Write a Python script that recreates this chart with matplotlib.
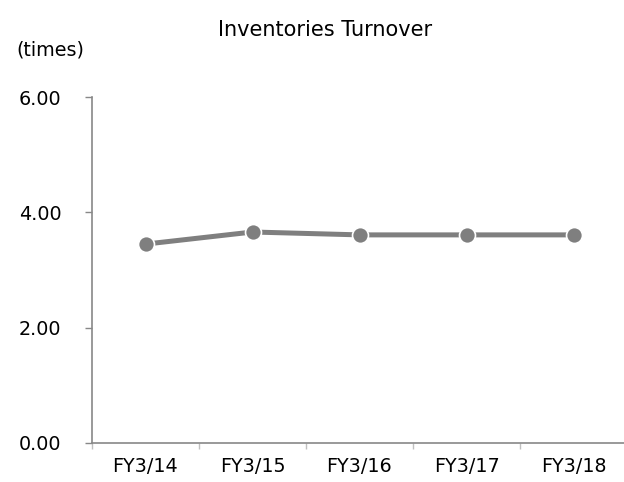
import matplotlib
matplotlib.use("Agg")
import matplotlib.pyplot as plt
from matplotlib.ticker import FixedLocator, FormatStrFormatter

categories = ["FY3/14", "FY3/15", "FY3/16", "FY3/17", "FY3/18"]
turnover = [3.45, 3.66, 3.61, 3.61, 3.61]
y_ticks = [0, 2, 4, 6]

plt.rcParams["font.family"] = ["DejaVu Sans"]

fig = plt.figure(figsize=(6.24, 4.82), dpi=100)
ax = fig.add_axes([92 / 624, 39.3 / 482, 535 / 624, 345.4 / 482])

gray = "#7f7f7f"
x = list(range(len(categories)))
ax.plot(x, turnover, color=gray, linewidth=3.6, marker="o", markersize=11.5,
        markerfacecolor=gray, markeredgecolor="white", markeredgewidth=1.2,
        solid_capstyle="butt", clip_on=False)

ax.set_xlim(-0.5, len(categories) - 0.5)
ax.set_ylim(0, 6)
ax.set_yticks(y_ticks)
ax.yaxis.set_major_formatter(FormatStrFormatter("%.2f"))
ax.set_xticks(x)
ax.set_xticklabels(categories)
ax.xaxis.set_minor_locator(FixedLocator([i - 0.5 for i in range(len(categories) + 1)]))

for side in ("top", "right"):
    ax.spines[side].set_visible(False)
for side in ("left", "bottom"):
    ax.spines[side].set_color("#888888")
    ax.spines[side].set_linewidth(1.2)

tick_size = 13.8
ax.tick_params(axis="y", length=5, width=1.0, color="#888888", pad=17,
               labelsize=tick_size, labelcolor="black")
ax.tick_params(axis="x", which="major", length=0, pad=10, labelsize=tick_size,
               labelcolor="black")
ax.tick_params(axis="x", which="minor", length=4, width=1.0, color="#c0c0c0")

fig.text(325 / 624, 1 - 30 / 482, "Inventories Turnover", ha="center", va="center",
         fontsize=15)
fig.text(16 / 624, 1 - 50 / 482, "(times)", ha="left", va="center", fontsize=tick_size)

fig.savefig("out.png", dpi=100)
